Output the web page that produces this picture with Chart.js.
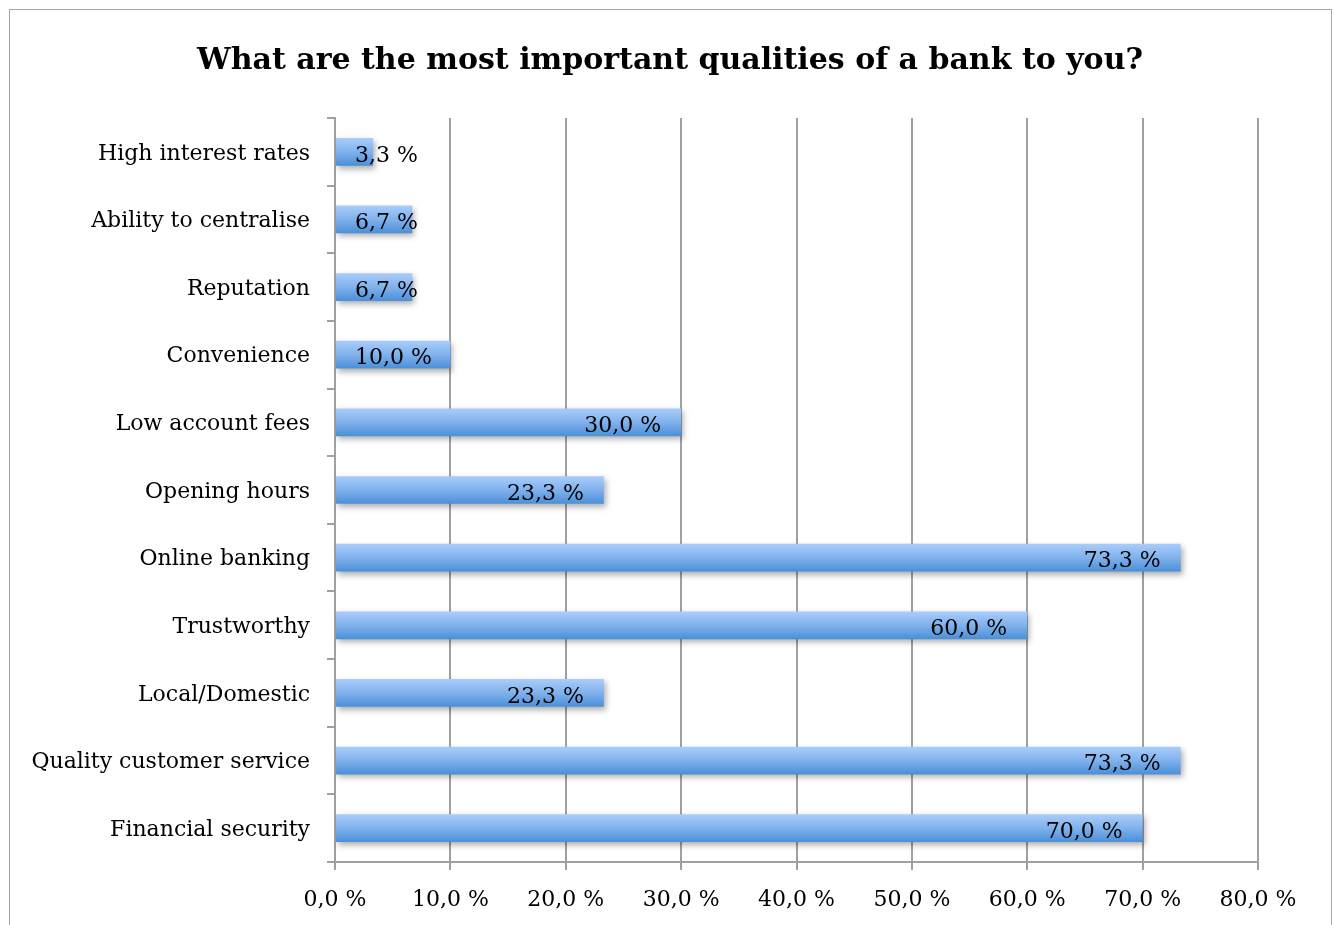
<!DOCTYPE html>
<html>
<head>
<meta charset="utf-8">
<script src="https://cdn.jsdelivr.net/npm/chart.js@4/dist/chart.umd.min.js"></script>
<style>
  html, body { margin: 0; padding: 0; background: #fff; overflow: hidden; }
  #wrap { position: relative; width: 1335px; height: 925px; }
  #frame { position: absolute; left: 9px; top: 9px; width: 1323px; height: 1000px; border: 1px solid #a6a6a6; box-sizing: border-box; }
  canvas { position: absolute; left: 0; top: 0; }
</style>
</head>
<body>
<div id="wrap">
  <div id="frame"></div>
  <canvas id="c" width="1335" height="925"></canvas>
</div>
<script>
const titleText = "What are the most important qualities of a bank to you?";
const categories = [
  "High interest rates",
  "Ability to centralise",
  "Reputation",
  "Convenience",
  "Low account fees",
  "Opening hours",
  "Online banking",
  "Trustworthy",
  "Local/Domestic",
  "Quality customer service",
  "Financial security"
];
const values = [3.3, 6.7, 6.7, 10.0, 30.0, 23.3, 73.3, 60.0, 23.3, 73.3, 70.0];
const xMin = 0, xMax = 80, xStep = 10;

const FONT = "'DejaVu Serif', 'Liberation Serif', serif";
const LABEL_SIZE = 22;
const fmt = v => v.toFixed(1).replace('.', ',') + ' %';

const barStyle = {
  id: 'barStyle',
  beforeDatasetsDraw(chart) {
    const ctx = chart.ctx;
    chart.getDatasetMeta(0).data.forEach(el => {
      const top = el.y - el.height / 2, bot = el.y + el.height / 2;
      const g = ctx.createLinearGradient(0, top, 0, bot);
      g.addColorStop(0, '#a9cdfb');
      g.addColorStop(0.5, '#80b1ec');
      g.addColorStop(1, '#4a8fd8');
      el.options = Object.assign({}, el.options, { backgroundColor: g });
    });
    ctx.save();
    ctx.shadowColor = 'rgba(0,0,0,0.32)';
    ctx.shadowBlur = 6;
    ctx.shadowOffsetX = 2;
    ctx.shadowOffsetY = 3;
  },
  afterDatasetsDraw(chart) {
    const ctx = chart.ctx;
    ctx.restore();
    ctx.save();
    ctx.font = LABEL_SIZE + 'px ' + FONT;
    ctx.fillStyle = '#000';
    ctx.textBaseline = 'middle';
    ctx.textAlign = 'left';
    chart.getDatasetMeta(0).data.forEach((el, i) => {
      const txt = fmt(values[i]);
      const w = ctx.measureText(txt).width;
      let x = el.x - 20 - w;
      if (x < el.base + 19) x = el.base + 19;
      ctx.fillText(txt, x, el.y + 4);
    });
    ctx.restore();
  },
  afterDraw(chart) {
    const ctx = chart.ctx;
    ctx.save();
    ctx.font = 'bold 30px ' + FONT;
    ctx.fillStyle = '#000';
    ctx.textAlign = 'center';
    ctx.textBaseline = 'middle';
    ctx.fillText(titleText, 670, 61);
    ctx.restore();
  }
};

new Chart(document.getElementById('c'), {
  type: 'bar',
  data: {
    labels: categories,
    datasets: [{
      data: values,
      backgroundColor: '#7fb0ec',
      borderWidth: 0,
      barPercentage: 0.41,
      categoryPercentage: 1.0
    }]
  },
  options: {
    indexAxis: 'y',
    responsive: false,
    animation: false,
    events: [],
    layout: { padding: { top: 118, right: 77, bottom: 0, left: 0 } },
    plugins: {
      legend: { display: false },
      tooltip: { enabled: false },
      title: { display: false }
    },
    scales: {
      x: {
        min: xMin, max: xMax,
        ticks: {
          stepSize: xStep,
          color: '#000',
          font: { family: FONT, size: LABEL_SIZE },
          padding: 17,
          callback: v => fmt(v)
        },
        grid: { color: '#a0a0a0', lineWidth: 2, tickLength: 8, drawOnChartArea: true },
        border: { color: '#a0a0a0', width: 2 },
        afterFit: s => { s.height = 63; }
      },
      y: {
        ticks: { color: '#000', font: { family: FONT, size: LABEL_SIZE }, padding: 17, labelOffset: 2 },
        grid: { drawOnChartArea: false, drawTicks: true, tickLength: 8, color: '#a0a0a0', lineWidth: 2, offset: true },
        border: { color: '#a0a0a0', width: 2 },
        afterFit: s => { s.width = 335; }
      }
    }
  },
  plugins: [barStyle]
});
</script>
</body>
</html>
